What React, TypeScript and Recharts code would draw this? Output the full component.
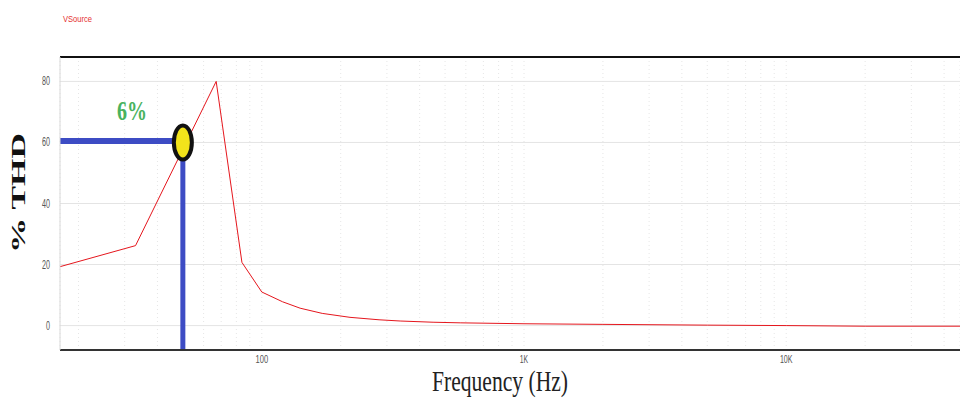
import React from "react";
import {
  ComposedChart,
  Line,
  XAxis,
  YAxis,
  CartesianGrid,
  ReferenceLine,
  ReferenceDot,
} from "recharts";

// Frequency (Hz) and %THD
const frequencies = [17, 33, 67, 84, 100, 120, 140, 170, 217, 280, 337, 450, 571, 1000, 2000, 5000, 10000, 20000, 46000];
const thdValues = [19.3, 26.2, 80, 20.7, 11, 7.8, 5.7, 4.0, 2.7, 1.9, 1.5, 1.1, 0.9, 0.6, 0.4, 0.15, 0, -0.2, -0.2];

const xDomain = [17, 46000];
const yDomain = [-8, 88];
const yTicks = [0, 20, 40, 60, 80];
const majorTicks = [100, 1000, 10000];
const majorTickLabels = ["100", "1K", "10K"];
const minorTicks = [
  20, 30, 40, 50, 60, 70, 80, 90, 100,
  200, 300, 400, 500, 600, 700, 800, 900, 1000,
  2000, 3000, 4000, 5000, 6000, 7000, 8000, 9000, 10000,
  20000, 30000, 40000,
];

// Annotation values
const markerFreq = 50;
const markerThd = 60;
const markerLineThd = 60.5;
const markerLineTop = 54;
const annotationFreq = 32;
const annotationThd = 70.5;
const annotationText = "6%";

const sourceLabel = "VSource";
const yLabel = "% THD";
const xLabel = "Frequency (Hz)";

const data = frequencies.map((f, i) => ({ f, thd: thdValues[i] }));

const XTick = (props: any) => {
  const { x, y, payload } = props;
  const idx = majorTicks.indexOf(payload.value);
  if (idx < 0) return null;
  const label = majorTickLabels[idx];
  return (
    <text
      x={x}
      y={y + 5}
      textAnchor="middle"
      fontFamily="Liberation Sans, Arial, sans-serif"
      fontSize={10}
      fill="#555"
      textLength={label.length * 4.2}
      lengthAdjust="spacingAndGlyphs"
    >
      {label}
    </text>
  );
};

const YTick = (props: any) => {
  const { x, y, payload } = props;
  const label = String(payload.value);
  return (
    <text
      x={x}
      y={y + 4}
      textAnchor="end"
      fontFamily="Liberation Sans, Arial, sans-serif"
      fontSize={12}
      fill="#555"
      textLength={label.length * 4}
      lengthAdjust="spacingAndGlyphs"
    >
      {label}
    </text>
  );
};

const MarkerShape = (props: any) => {
  const { cx, cy } = props;
  return (
    <ellipse cx={cx} cy={cy} rx={9} ry={17} fill="#f2e31b" stroke="#111" strokeWidth={4} />
  );
};

const AnnotationShape = (props: any) => {
  const { cx, cy } = props;
  return (
    <text
      x={cx}
      y={cy + 10}
      textAnchor="middle"
      fontFamily="Liberation Serif, Times New Roman, serif"
      fontWeight="bold"
      fontSize={28}
      fill="#49b25e"
      textLength={30}
      lengthAdjust="spacingAndGlyphs"
    >
      {annotationText}
    </text>
  );
};

export default function App() {
  return (
    <div style={{ position: "absolute", left: 0, top: 0, width: 960, height: 400, background: "#fff" }}>
      <ComposedChart
        width={960}
        height={400}
        data={data}
        margin={{ top: 57, right: 0, bottom: 20, left: 0 }}
      >
        <CartesianGrid horizontal={false} vertical={true} stroke="#e6e6e6" strokeDasharray="1 3" />
        <CartesianGrid horizontal={true} vertical={false} stroke="#e4e4e4" />
        <XAxis
          dataKey="f"
          type="number"
          scale="log"
          domain={xDomain}
          ticks={minorTicks}
          allowDataOverflow
          height={30}
          tick={<XTick />}
          tickLine={false}
          axisLine={{ stroke: "#333", strokeWidth: 2 }}
          interval={0}
        />
        <YAxis
          type="number"
          domain={yDomain}
          ticks={yTicks}
          allowDataOverflow
          width={60}
          tick={<YTick />}
          tickLine={false}
          tickSize={0}
          tickMargin={10}
          axisLine={{ stroke: "#d8d8d8" }}
        />
        <ReferenceLine y={yDomain[1]} stroke="#111" strokeWidth={2} ifOverflow="visible" />
        <Line
          type="linear"
          dataKey="thd"
          stroke="#e5161d"
          strokeWidth={1}
          dot={false}
          isAnimationActive={false}
        />
        <ReferenceLine
          segment={[{ x: xDomain[0], y: markerLineThd }, { x: markerFreq * 0.93, y: markerLineThd }]}
          stroke="#3d4cc4"
          strokeWidth={6}
          ifOverflow="visible"
        />
        <ReferenceLine
          segment={[{ x: markerFreq, y: yDomain[0] }, { x: markerFreq, y: markerLineTop }]}
          stroke="#3d4cc4"
          strokeWidth={5}
          ifOverflow="visible"
        />
        <ReferenceDot x={markerFreq} y={markerThd} r={10} shape={<MarkerShape />} ifOverflow="visible" />
        <ReferenceDot x={annotationFreq} y={annotationThd} r={1} shape={<AnnotationShape />} ifOverflow="visible" />
      </ComposedChart>
      <svg width={960} height={400} style={{ position: "absolute", left: 0, top: 0, pointerEvents: "none" }}>
        <text
          x={63}
          y={22}
          fontFamily="Liberation Sans, Arial, sans-serif"
          fontSize={9}
          fill="#e53030"
          textLength={29}
          lengthAdjust="spacingAndGlyphs"
        >
          {sourceLabel}
        </text>
        <text
          transform="translate(25,193) rotate(-90)"
          textAnchor="middle"
          fontFamily="Liberation Serif, Times New Roman, serif"
          fontWeight="bold"
          fontSize={18}
          fill="#111"
          textLength={120}
          lengthAdjust="spacingAndGlyphs"
        >
          {yLabel}
        </text>
        <text
          x={500}
          y={391}
          textAnchor="middle"
          fontFamily="Liberation Serif, Times New Roman, serif"
          fontSize={29}
          fill="#222"
          textLength={136}
          lengthAdjust="spacingAndGlyphs"
        >
          {xLabel}
        </text>
      </svg>
    </div>
  );
}
